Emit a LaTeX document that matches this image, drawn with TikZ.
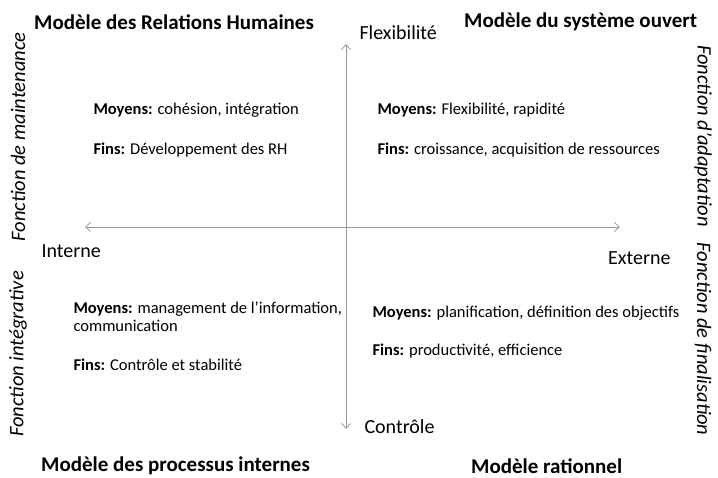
\documentclass[tikz,border=0pt]{standalone}
\usepackage{fontspec}
\setmainfont{Carlito}
\usetikzlibrary{arrows.meta}

\begin{document}
\begin{tikzpicture}[x=1pt, y=-1pt,
	titre/.style={font=\bfseries\fontsize{21}{24}\selectfont, anchor=west, inner sep=1pt},
	fonction/.style={font=\itshape\fontsize{20.5}{24}\selectfont},
	pole/.style={font=\fontsize{20}{24}\selectfont},
	moyen/.style={font=\fontsize{16.5}{18}\selectfont, anchor=west, align=left},
	axe/.style={draw=black!40, line width=0.8pt, {Straight Barb[length=5pt, width=9pt]}-{Straight Barb[length=5pt, width=9pt]}}]
			\useasboundingbox (0,0) rectangle (718,478);
			% Axes
			\coordinate (nord) at (346,44);
			\coordinate (sud) at (346,429);
			\coordinate (ouest) at (85,227);
			\coordinate (est) at (620,227);
			\draw[axe] (sud) -- (nord);
			\draw[axe] (ouest) -- (est);
			% Poles
			\node[pole, anchor=west] (flex) at (356,33) {Flexibilité};
			\node[pole, anchor=west] (controle) at (361,427) {Contrôle};
			\node[pole, anchor=west] (interne) at (38,251) {Interne};
			\node[pole, anchor=east] (externe) at (674,258) {Externe};
			% Modeles
			\node[titre] (rh) at (33,22) {Modèle des Relations Humaines};
			\node[titre] (ouvert) at (463,22) {Modèle du système ouvert};
			\node[titre] (processus) at (40,466) {Modèle des processus internes};
			\node[titre] (rationnel) at (470,466) {Modèle rationnel};
			% Fonctions
			\node[fonction, rotate=90] (maintenance) at (18,137) {Fonction de maintenance};
			\node[fonction, rotate=90] (integrative) at (18,354) {Fonction intégrative};
			\node[fonction, rotate=-90] (adaptation) at (703,136) {Fonction d’adaptation};
			\node[fonction, rotate=-90] (finalisation) at (703,339) {Fonction de finalisation};
			% Quadrants
			\node[moyen] (moyensRH) at (90,110) {\textbf{Moyens:} cohésion, intégration};
			\node[moyen] (finsRH) at (90,150) {\textbf{Fins:} Développement des RH};
			\node[moyen] (moyensSO) at (374,110) {\textbf{Moyens:} Flexibilité, rapidité};
			\node[moyen] (finsSO) at (374,150) {\textbf{Fins:} croissance, acquisition de ressources};
			\node[moyen] (moyensPI) at (70,317) {\textbf{Moyens:} management de l’information,\\communication};
			\node[moyen] (finsPI) at (70,365) {\textbf{Fins:} Contrôle et stabilité};
			\node[moyen] (moyensRat) at (369,313) {\textbf{Moyens:} planification, définition des objectifs};
			\node[moyen] (finsRat) at (369,351) {\textbf{Fins:} productivité, efficience};
		\end{tikzpicture}
\end{document}
